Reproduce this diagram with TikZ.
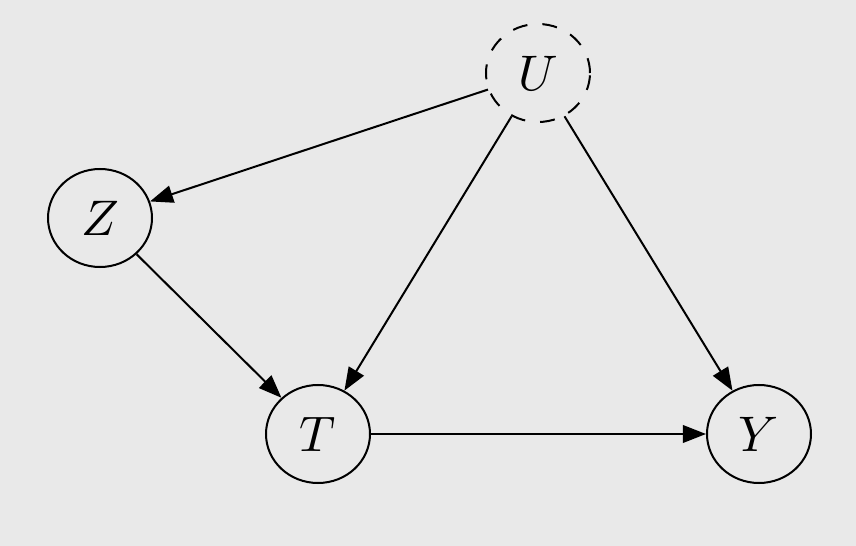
\documentclass[tikz,border=0pt]{standalone}
\usetikzlibrary{shapes.geometric,arrows.meta}
\definecolor{bg}{HTML}{E9E9E9}
\begin{document}
\begin{tikzpicture}[x=0.2pt,y=-0.2pt,
  var/.style={draw,ellipse,minimum width=20.8pt,minimum height=19.6pt,inner sep=0pt,line width=0.4pt},
  latent/.style={var,dashed},
  edge/.style={-{Triangle[length=4.6pt,width=3.5pt]},line width=0.4pt}]
\fill[bg] (0,0) rectangle (856,546);
\useasboundingbox (0,0) rectangle (856,546);
\node[latent] (U) at (538,73) {$U$};
\node[var] (Z) at (100,218) {$Z$};
\node[var] (T) at (318,434) {$T$};
\node[var] (Y) at (759,434) {$Y$};
\draw[edge] (U) -- (Z);
\draw[edge] (U) -- (T);
\draw[edge] (U) -- (Y);
\draw[edge] (Z) -- (T);
\draw[edge] (T) -- (Y);
\end{tikzpicture}
\end{document}
